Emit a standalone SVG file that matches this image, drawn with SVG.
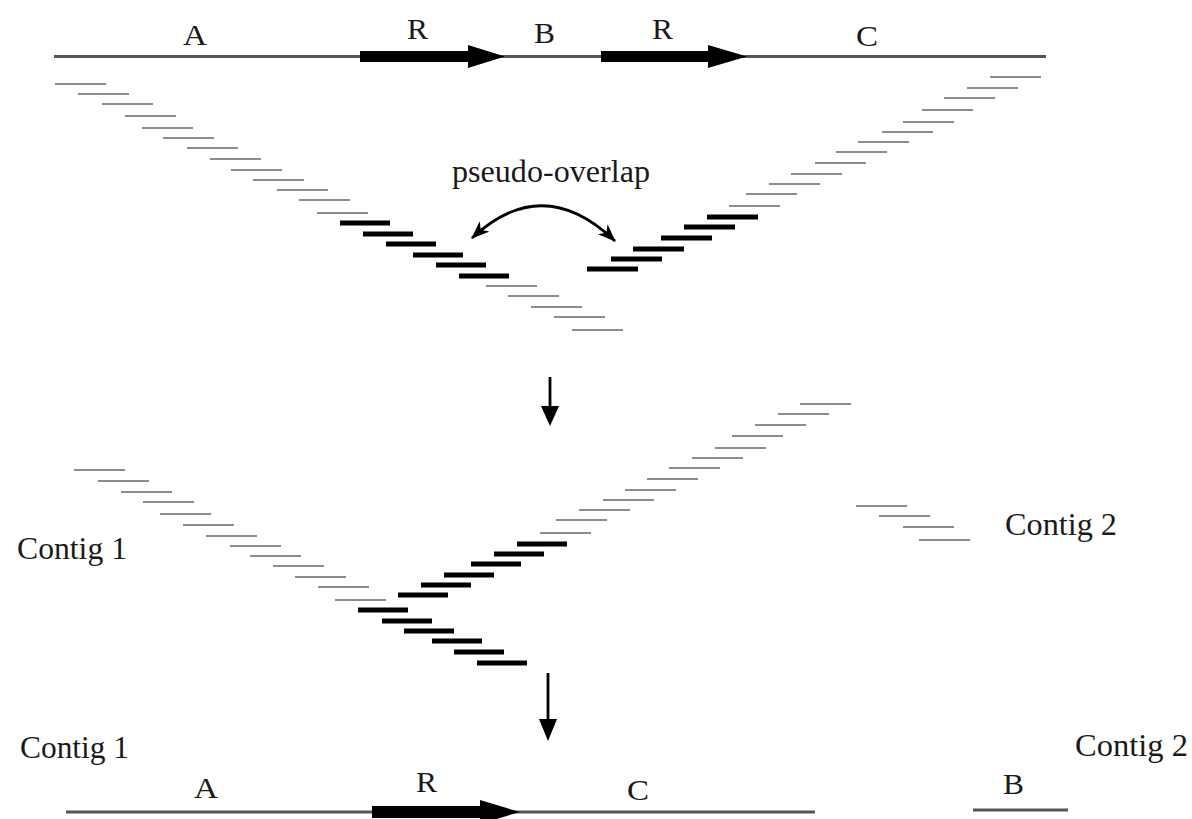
<svg xmlns="http://www.w3.org/2000/svg" width="1192" height="819" viewBox="0 0 1192 819">
<defs>
<style>
.t{font-family:"Liberation Serif","Times New Roman",serif;fill:#1a1a1a;}
.lab{font-size:30px;}
.big{font-size:31px;}
.seq{stroke:#555;stroke-width:3;fill:none;}
.g{stroke:#8c8c8c;stroke-width:2;fill:none;}
.k{stroke:#000;stroke-width:5;fill:none;}
.conn{stroke:#000;stroke-width:2.8;fill:none;}
.head{fill:#000;}
</style>
<marker id="ah" viewBox="0 0 18 14" refX="17" refY="7" markerWidth="18" markerHeight="14" markerUnits="userSpaceOnUse" orient="auto-start-reverse">
<path d="M0 0 L18 7 L0 14 L5 7 Z" fill="#000"/>
</marker>
</defs>
<rect width="1192" height="819" fill="#fff"/>

<g id="genome-top">
<line class="seq" x1="54" y1="56.5" x2="1046" y2="56.5"/>
<polygon class="head" points="360,51 468,51 468,45 505,56.5 468,68 468,62 360,62"/>
<polygon class="head" points="601,51 708,51 708,45 747,56.5 708,68 708,62 601,62"/>
<text class="t lab" x="183" y="45" textLength="24" lengthAdjust="spacingAndGlyphs">A</text>
<text class="t lab" x="407" y="39" textLength="21" lengthAdjust="spacingAndGlyphs">R</text>
<text class="t lab" x="534" y="43" textLength="21" lengthAdjust="spacingAndGlyphs">B</text>
<text class="t lab" x="652" y="39" textLength="21" lengthAdjust="spacingAndGlyphs">R</text>
<text class="t lab" x="856" y="46" textLength="22" lengthAdjust="spacingAndGlyphs">C</text>
</g>

<g id="reads-left">
<path class="g" d="M55 84h51M78 94h51M102 104h51M125 116h51M142 128h51M163 138h51M187 148h51M210 159h51M231 170h51M253 180h51M277 190h51M299 200h51M317 213h51"/>
<path class="k" d="M340 223h50M363 234h50M386 244h50M413 255h50M436 265h50M459 276h50"/>
<path class="g" d="M486 286h51M508 296h51M531 307h51M554 317h51M572 330h51"/>
</g>

<g id="reads-right">
<path class="k" d="M587 269h51M611 259h51M633 249h51M661 238h51M684 227h51M707 217h51"/>
<path class="g" d="M729 206h51M746 194h51M769 184h51M791 174h51M815 163h51M836 152h51M858 142h51M882 132h51M903 122h51M922 110h51M944 98h51M967 88h51M990 77h51"/>
</g>

<g id="pseudo-overlap-label">
<text class="t big" x="452" y="182" textLength="198" lengthAdjust="spacingAndGlyphs">pseudo-overlap</text>
</g>

<g id="contig1-mid">
<text class="t big" x="17" y="559" textLength="110" lengthAdjust="spacingAndGlyphs">Contig 1</text>
<path class="g" d="M74 470h51M98 481h51M121 492h51M143 502h51M160 514h51M183 525h51M206 536h51M230 546h51M250 556h51M273 566h51M295 577h51M318 587h51M335 600h51"/>
<path class="k" d="M358 610h50M382 621h50M404 631h50M432 641h50M454 652h50M477 663h50"/>
<path class="k" d="M398 595h50M421 585h50M444 575h50M471 564h50M494 554h50M517 544h50"/>
<path class="g" d="M540 533h51M556 520h51M579 510h51M603 500h51M625 490h51M647 479h51M669 468h51M692 458h51M715 448h51M732 436h51M755 425h51M778 414h51M800 404h51"/>
</g>

<g id="contig2-mid">
<path class="g" d="M856 506h51M879 516h51M903 527h51M919 540h51"/>
<text class="t big" x="1005" y="535" textLength="112" lengthAdjust="spacingAndGlyphs">Contig 2</text>
</g>

<g id="contig1-bottom">
<text class="t big" x="20" y="758" textLength="109" lengthAdjust="spacingAndGlyphs">Contig 1</text>
<line class="seq" x1="66" y1="812" x2="815" y2="812"/>
<polygon class="head" points="372,806 480,806 480,800 520,812 480,824 480,818 372,818"/>
<text class="t lab" x="194" y="798" textLength="24" lengthAdjust="spacingAndGlyphs">A</text>
<text class="t lab" x="416" y="792" textLength="21" lengthAdjust="spacingAndGlyphs">R</text>
<text class="t lab" x="627" y="800" textLength="22" lengthAdjust="spacingAndGlyphs">C</text>
</g>

<g id="contig2-bottom">
<text class="t big" x="1075" y="756" textLength="113" lengthAdjust="spacingAndGlyphs">Contig 2</text>
<line class="seq" x1="973" y1="810" x2="1068" y2="810"/>
<text class="t lab" x="1003" y="794" textLength="21" lengthAdjust="spacingAndGlyphs">B</text>
</g>

<g id="connectors">
<path class="conn" d="M472 238 Q543 172 615 241" marker-start="url(#ah)" marker-end="url(#ah)"/>
<line class="conn" x1="550" y1="377" x2="550" y2="410"/>
<polygon class="head" points="541,406 559,406 550,426"/>
<line class="conn" x1="548" y1="673" x2="548" y2="722"/>
<polygon class="head" points="539,719 557,719 548,741"/>
</g>
</svg>
